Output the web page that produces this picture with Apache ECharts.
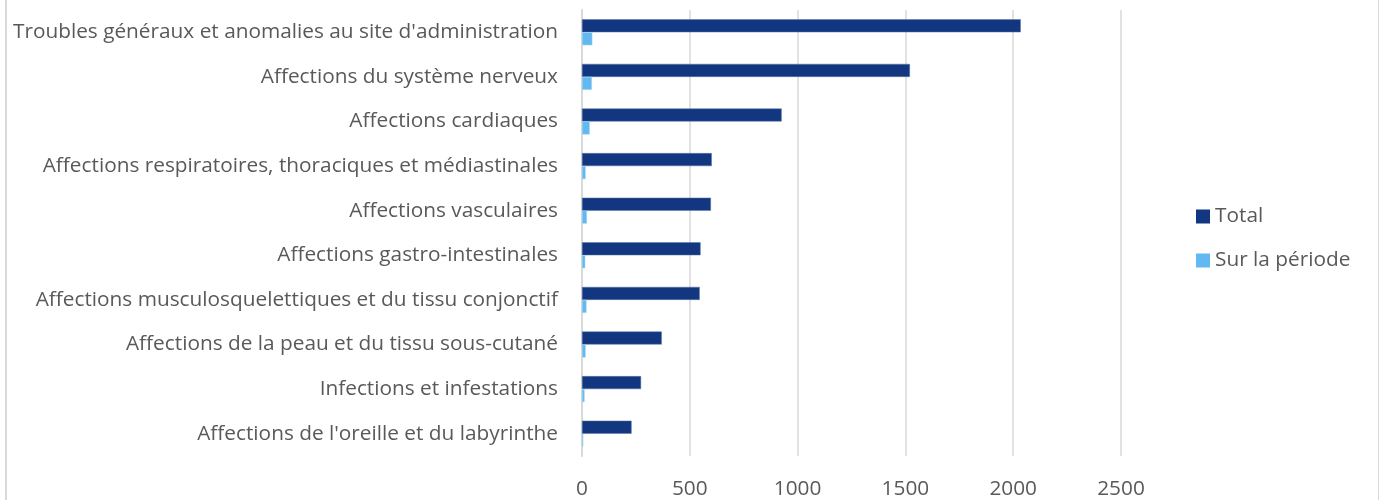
<!DOCTYPE html>
<html>
<head>
<meta charset="utf-8">
<script src="https://cdn.jsdelivr.net/npm/echarts@6/dist/echarts.min.js"></script>
<style>
  html, body { margin: 0; padding: 0; background: #fff; }
  #frame { position: absolute; left: 5px; top: 0; width: 1371px; height: 500px;
           border-left: 2px solid #d9d9d9; border-right: 2px solid #d9d9d9; }
  #main { position: absolute; left: 0; top: 0; width: 1379px; height: 500px; }
</style>
</head>
<body>
<div id="frame"></div>
<div id="main"></div>
<script>
// categories, top to bottom
const categories = [
    "Troubles généraux et anomalies au site d'administration",
    "Affections du système nerveux",
    "Affections cardiaques",
    "Affections respiratoires, thoraciques et médiastinales",
    "Affections vasculaires",
    "Affections gastro-intestinales",
    "Affections musculosquelettiques et du tissu conjonctif",
    "Affections de la peau et du tissu sous-cutané",
    "Infections et infestations",
    "Affections de l'oreille et du labyrinthe"
];

// valeurs
const totalValues = [2035, 1521, 926, 602, 598, 550, 546, 370, 274, 230];
const periodeValues = [48, 46, 36, 17, 23, 15, 21, 17, 12, 6];

const xTicks = [0, 500, 1000, 1500, 2000, 2500];

const textColor = '#595959';
const font = '"Open Sans", sans-serif';
const fontSize = 20.8;

var myChart = echarts.init(document.getElementById('main'));

const option = {
    animation: false,
    grid: {
        left: 582,
        right: 258,
        top: 10,
        bottom: 43
    },
    legend: {
        orient: 'vertical',
        left: 1191,
        top: 201,
        icon: 'rect',
        itemWidth: 14,
        itemHeight: 14,
        itemGap: 23,
        itemStyle: { borderWidth: 0 },
        textStyle: { color: textColor, fontSize: fontSize, fontFamily: font },
        data: ['Total', 'Sur la période']
    },
    xAxis: {
        type: 'value',
        min: xTicks[0],
        max: xTicks[xTicks.length - 1],
        interval: 500,
        axisLine: { show: false },
        axisTick: { show: false },
        axisLabel: {
            color: textColor, fontSize: fontSize, fontFamily: font, margin: 23,
            formatter: function (value) { return String(value); }
        },
        splitLine: { lineStyle: { color: '#d9d9d9', width: 1.5 } }
    },
    yAxis: {
        type: 'category',
        inverse: true,
        data: categories,
        axisLine: { show: true, lineStyle: { color: '#d9d9d9', width: 2 } },
        axisTick: { show: false },
        axisLabel: { color: textColor, fontSize: fontSize, fontFamily: font, margin: 24 }
    },
    series: [
        {
            name: 'Total',
            type: 'bar',
            data: totalValues,
            barWidth: 13,
            barGap: '0%',
            itemStyle: { color: '#12367f', borderColor: '#5b76a8', borderWidth: 0.5 }
        },
        {
            name: 'Sur la période',
            type: 'bar',
            data: periodeValues,
            barWidth: 13,
            barGap: '0%',
            itemStyle: { color: '#62b8f0', borderColor: '#a9d6f5', borderWidth: 0.5 }
        }
    ]
};

myChart.setOption(option);
</script>
</body>
</html>
